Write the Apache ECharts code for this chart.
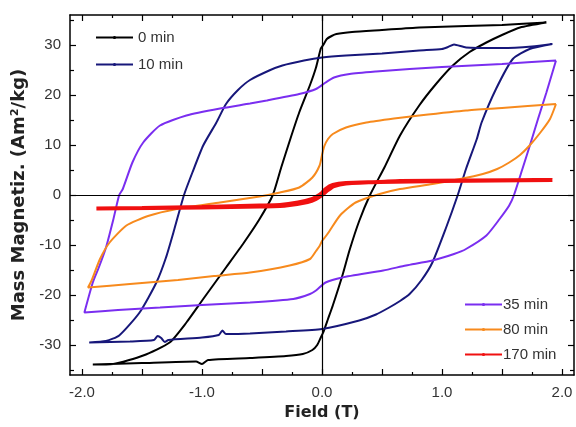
<!DOCTYPE html>
<html>
<head>
<meta charset="utf-8">
<script src="https://cdn.jsdelivr.net/npm/echarts@6/dist/echarts.min.js"></script>
<style>
  html, body { margin: 0; padding: 0; background: #fff; }
  #chart { width: 576px; height: 427px; }
</style>
</head>
<body>
<div id="chart"></div>
<script>
// loop data: [field (T), magnetization (Am2/kg)], down branch then up branch
const loop0 = [
  [1.87, 34.5], [1.5, 34.0], [1.2, 33.8], [0.81, 33.5], [0.5, 33.0], [0.25, 32.6], [0.12, 32.2],
  [0.08, 31.8], [0.04, 31.2], [0.01, 30.0], [-0.01, 29.3], [-0.05, 25.5], [-0.10, 22.0],
  [-0.19, 16.5], [-0.26, 11.5], [-0.34, 5.5], [-0.41, 0], [-0.52, -4.8], [-0.65, -9.5],
  [-0.80, -14.5], [-0.99, -20.8], [-1.13, -25.5], [-1.27, -29.5], [-1.49, -32.1],
  [-1.74, -33.8], [-1.91, -33.9],
  [-1.5, -33.6], [-1.05, -33.3], [-1.0, -33.8], [-0.95, -33.0], [-0.6, -32.6], [-0.3, -32.2],
  [-0.16, -31.8], [-0.08, -31.0], [-0.04, -30.0], [-0.01, -28.5], [0.01, -27.5], [0.05, -24.8],
  [0.09, -22.1], [0.17, -16.1], [0.23, -11.0], [0.31, -5.2], [0.40, 0], [0.52, 5.5],
  [0.65, 11.9], [0.81, 17.9], [0.95, 22.2], [1.09, 25.9], [1.23, 28.6], [1.37, 30.5],
  [1.5, 32.0], [1.65, 33.5], [1.87, 34.5]
];
const loop10 = [
  [1.92, 30.2], [1.75, 29.7], [1.5, 29.4], [1.2, 29.5], [1.1, 30.1], [1.05, 29.6], [1.0, 29.2],
  [0.81, 28.9], [0.5, 28.3], [0.2, 27.9], [0.0, 27.5], [-0.15, 26.9], [-0.33, 25.9],
  [-0.44, 24.9], [-0.6, 23.0], [-0.7, 21.0], [-0.8, 18.2], [-0.88, 14.5], [-0.99, 9.9],
  [-1.08, 4.5], [-1.15, 0], [-1.23, -6.8], [-1.30, -12.5], [-1.38, -17.5], [-1.52, -23.5],
  [-1.69, -28.1], [-1.8, -29.2], [-1.94, -29.5],
  [-1.6, -29.3], [-1.4, -29.0], [-1.37, -28.2], [-1.34, -28.6], [-1.31, -29.4], [-1.28, -29.0],
  [-1.0, -28.5], [-0.86, -28.0], [-0.83, -27.1], [-0.80, -27.8], [-0.6, -27.7], [-0.3, -27.3],
  [0.0, -26.8], [0.31, -25.1], [0.45, -23.9], [0.56, -22.5], [0.65, -21.2], [0.73, -19.8],
  [0.83, -17.0], [0.92, -13.5], [1.03, -6.8], [1.13, -0.1], [1.20, 5.2], [1.29, 11.2],
  [1.33, 14.5], [1.45, 21.2], [1.59, 27.2], [1.73, 29.2], [1.92, 30.2]
];
const loop35 = [
  [1.95, 26.9], [1.5, 26.2], [1.0, 25.6], [0.73, 25.2], [0.45, 24.7], [0.23, 24.2], [0.10, 23.5],
  [0.03, 22.5], [-0.05, 21.2], [-0.19, 20.2], [-0.46, 18.9], [-0.6, 18.3], [-0.85, 17.3],
  [-1.13, 15.9], [-1.35, 13.9], [-1.49, 10.5], [-1.58, 6.5], [-1.66, 1.2], [-1.69, 0],
  [-1.74, -5.0], [-1.80, -10.5], [-1.86, -14.5], [-1.91, -17.5], [-1.98, -23.5],
  [-1.7, -23.0], [-1.35, -22.5], [-1.0, -22.0], [-0.6, -21.5], [-0.24, -20.8], [-0.10, -19.8],
  [-0.05, -19.1], [0.03, -17.5], [0.17, -16.5], [0.51, -15.1], [0.70, -14.1], [0.92, -13.1],
  [1.1, -11.8], [1.20, -10.8], [1.37, -8.1], [1.48, -4.8], [1.56, -2.1], [1.60, 0],
  [1.67, 5.2], [1.74, 10.5], [1.80, 15.2], [1.87, 20.5], [1.92, 24.5], [1.95, 26.9]
];
const loop80 = [
  [1.95, 18.2], [1.5, 17.4], [1.2, 16.9], [0.81, 15.9], [0.6, 15.3], [0.37, 14.5], [0.2, 13.5],
  [0.09, 12.2], [0.05, 11.2], [0.02, 9.8], [0.0, 8.0], [-0.02, 5.9], [-0.08, 3.5],
  [-0.19, 1.5], [-0.35, 0.5], [-0.52, -0.3], [-0.85, -1.5], [-1.21, -2.8], [-1.45, -4.2],
  [-1.63, -6.1], [-1.77, -9.5], [-1.85, -12.8], [-1.92, -17.1], [-1.95, -18.5],
  [-1.6, -17.8], [-1.2, -17.0], [-0.9, -16.2], [-0.6, -15.5], [-0.27, -14.1], [-0.10, -12.8],
  [-0.05, -11.2], [-0.02, -10.2], [0.0, -9.2], [0.03, -8.3], [0.06, -7.3], [0.15, -4.1],
  [0.28, -1.5], [0.48, 0.2], [0.65, 1.2], [0.92, 2.2], [1.15, 3.2], [1.34, 4.2], [1.46, 5.2],
  [1.56, 6.5], [1.65, 8.0], [1.73, 9.9], [1.82, 12.5], [1.90, 15.2], [1.95, 18.2]
];
const loop170 = [
  [1.92, 3.0], [1.2, 2.9], [0.65, 2.8], [0.48, 2.6], [0.2, 2.4], [0.09, 2.0], [0.03, 1.2],
  [0.0, 0.4], [-0.05, -0.4], [-0.08, -0.8], [-0.2, -1.5], [-0.35, -2.0], [-0.52, -2.1],
  [-1.0, -2.4], [-1.5, -2.6], [-1.88, -2.7],
  [-1.0, -2.5], [-0.52, -2.3], [-0.3, -2.1], [-0.12, -1.4], [-0.05, -0.8], [0.0, 0.0],
  [0.05, 1.0], [0.1, 1.8], [0.2, 2.3], [0.48, 2.6], [1.0, 2.8], [1.92, 3.0]
];

const seriesNames = ['0 min', '10 min', '35 min', '80 min', '170 min'];

// axis ticks
const xTickLabels = [-2, -1, 0, 1, 2];
const xMajorTicks = [-2, -1.5, -1, -0.5, 0, 0.5, 1, 1.5, 2];
const xMinorTicks = [-1.75, -1.25, -0.75, -0.25, 0.25, 0.75, 1.25, 1.75];
const yTickLabels = [-30, -20, -10, 0, 10, 20, 30];
const yMinorTicks = [-35, -25, -15, -5, 5, 15, 25, 35];

const FONT = 'Liberation Sans, Arial, sans-serif';
const TITLE_FONT = 'DejaVu Sans, sans-serif';

function xAx(pos, ticks, len, main) {
  return {
    type: 'value', position: pos, min: -2.1, max: 2.1,
    axisLine: { show: main, onZero: false, lineStyle: { color: '#000', width: 1.5 } },
    axisTick: { inside: true, length: len, customValues: ticks, lineStyle: { color: '#000', width: 1.2 } },
    axisLabel: { show: false },
    splitLine: { show: false }
  };
}
function yAx(pos, ticks, len, main) {
  return {
    type: 'value', position: pos, min: -36, max: 36,
    axisLine: { show: main, onZero: false, lineStyle: { color: '#000', width: 1.5 } },
    axisTick: { inside: true, length: len, customValues: ticks, lineStyle: { color: '#000', width: 1.2 } },
    axisLabel: { show: false },
    splitLine: { show: false }
  };
}

const xMain = xAx('bottom', xMajorTicks, 6, true);
xMain.axisLabel = {
  show: true, customValues: xTickLabels, margin: 10,
  color: '#333', fontSize: 15, fontFamily: FONT,
  formatter: v => v.toFixed(1)
};
xMain.name = 'Field (T)';
xMain.nameLocation = 'middle';
xMain.nameGap = 30;
xMain.nameTextStyle = { fontSize: 16, fontWeight: 'bold', color: '#222', fontFamily: TITLE_FONT };

const yMain = yAx('left', yTickLabels, 6, true);
yMain.axisLabel = {
  show: true, customValues: yTickLabels, margin: 9,
  color: '#333', fontSize: 15, fontFamily: FONT
};
yMain.name = 'Mass Magnetiz. (Am²/kg)';
yMain.nameLocation = 'middle';
yMain.nameGap = 40;
yMain.nameTextStyle = { fontSize: 18, fontWeight: 'bold', color: '#222', fontFamily: TITLE_FONT };

const loops = [loop0, loop10, loop35, loop80, loop170];
const colors = ['#000000', '#17177a', '#7a2ef0', '#f78a1d', '#f01010'];
const widths = [2, 2, 2, 2, 4];

const series = loops.map((d, i) => ({
  name: seriesNames[i],
  type: 'line',
  data: d,
  xAxisIndex: 0,
  yAxisIndex: 0,
  symbol: 'circle',
  symbolSize: 3,
  showSymbol: false,
  smooth: 0.2,
  color: colors[i],
  lineStyle: { color: colors[i], width: widths[i] },
  animation: false
}));

// zero lines
series[0].markLine = {
  silent: true, symbol: 'none', label: { show: false },
  lineStyle: { color: '#000', width: 1.2, type: 'solid' },
  data: [{ xAxis: 0 }, { yAxis: 0 }]
};

const chart = echarts.init(document.getElementById('chart'));
chart.setOption({
  backgroundColor: '#fff',
  animation: false,
  grid: { left: 70, right: 2, top: 15, bottom: 52 },
  xAxis: [xMain, xAx('bottom', xMinorTicks, 3, false), xAx('top', xMajorTicks, 6, true), xAx('top', xMinorTicks, 3, false)],
  yAxis: [yMain, yAx('left', yMinorTicks, 4, false), yAx('right', yTickLabels, 6, true), yAx('right', yMinorTicks, 4, false)],
  legend: [
    {
      data: seriesNames.slice(0, 2), orient: 'vertical', left: 90, top: 25,
      itemWidth: 37, itemHeight: 4, itemGap: 12,
      textStyle: { fontSize: 15, color: '#333', fontFamily: FONT }
    },
    {
      data: seriesNames.slice(2), orient: 'vertical', left: 459, top: 292,
      itemWidth: 37, itemHeight: 4, itemGap: 10,
      textStyle: { fontSize: 15, color: '#333', fontFamily: FONT, padding: [0, 0, 0, -4] }
    }
  ],
  series: series
});
</script>
</body>
</html>
